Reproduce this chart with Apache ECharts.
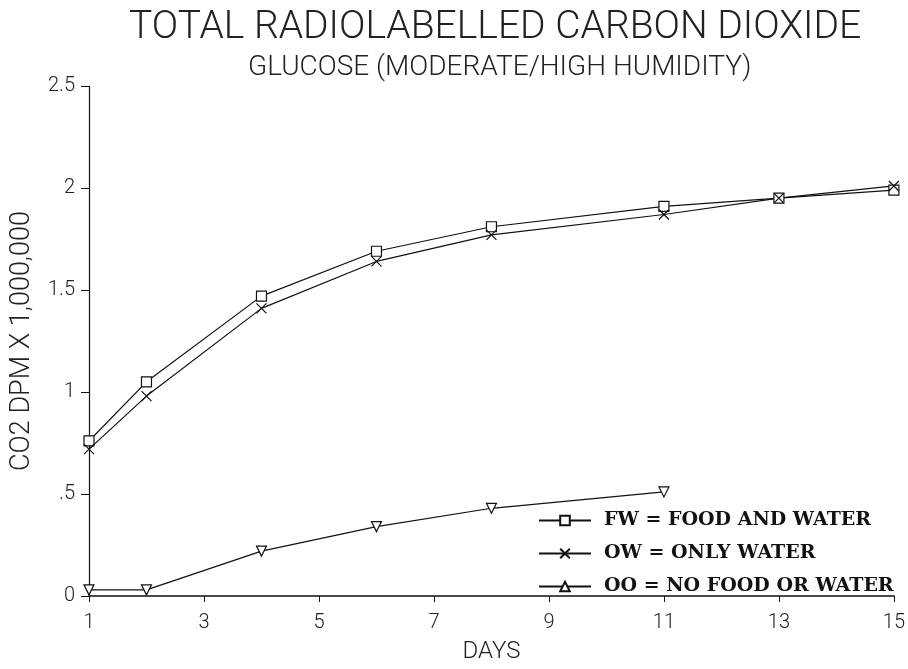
<!DOCTYPE html>
<html>
<head>
<meta charset="utf-8">
<script src="https://cdn.jsdelivr.net/npm/echarts@6/dist/echarts.min.js"></script>
<style>html,body{margin:0;padding:0;background:#fff}#c{width:908px;height:669px}</style>
</head>
<body>
<div id="c"></div>
<script>
const titleText = 'TOTAL RADIOLABELLED CARBON DIOXIDE';
const subtitleText = 'GLUCOSE (MODERATE/HIGH HUMIDITY)';
const xName = 'DAYS';
const yName = 'CO2 DPM X 1,000,000';
const seriesNames = ['FW = FOOD AND WATER', 'OW = ONLY WATER', 'OO = NO FOOD OR WATER'];
const fwDays = [1, 2, 4, 6, 8, 11, 13, 15];
const fwValues = [0.76, 1.05, 1.47, 1.69, 1.81, 1.91, 1.95, 1.99];
const owDays = [1, 2, 4, 6, 8, 11, 13, 15];
const owValues = [0.72, 0.98, 1.41, 1.64, 1.77, 1.87, 1.95, 2.01];
const ooDays = [1, 2, 4, 6, 8, 11];
const ooValues = [0.03, 0.03, 0.22, 0.34, 0.43, 0.51];
const xTicks = [1, 3, 5, 7, 9, 11, 13, 15];
const yTickLabels = {'0':'0','0.5':'.5','1':'1','1.5':'1.5','2':'2','2.5':'2.5'};

const pair = (xs, ys) => xs.map((x, i) => [x, ys[i]]);
const thin = 'Roboto';

const chart = echarts.init(document.getElementById('c'), null, {renderer: 'canvas'});
const baseSeries = {
  type: 'line',
  symbolSize: 10,
  lineStyle: {color: '#111', width: 1.2},
  itemStyle: {color: '#fff', borderColor: '#111', borderWidth: 1.2},
  emphasis: {disabled: true},
  animation: false,
  z: 3
};
chart.setOption({
  backgroundColor: '#fff',
  animation: false,
  title: [
    {text: titleText, left: 124, top: 4,
     textStyle: {fontFamily: thin, fontWeight: 300, fontSize: 39, color: '#222'}},
    {text: subtitleText, left: 243, top: 49,
     textStyle: {fontFamily: thin, fontWeight: 300, fontSize: 28, color: '#222'}}
  ],
  grid: {left: 89, right: 11, top: 86, bottom: 72},
  legend: {
    orient: 'vertical', left: 533, top: 506, itemGap: 14,
    itemWidth: 52, itemHeight: 12,
    textStyle: {fontFamily: 'DejaVu Serif', fontWeight: 'bold', fontSize: 19, color: '#111', padding: [0,0,0,8]},
    data: [
      {name: seriesNames[0]},
      {name: seriesNames[1]},
      {name: seriesNames[2], symbolRotate: 0}
    ]
  },
  xAxis: {
    type: 'value', min: 1, max: 15, interval: 2,
    name: xName, nameLocation: 'middle', nameGap: 44,
    nameTextStyle: {fontFamily: thin, fontWeight: 300, fontSize: 24, color: '#222'},
    axisLine: {lineStyle: {color: '#111', width: 1.5}},
    axisTick: {show: true, length: 6, lineStyle: {color: '#111'}},
    splitLine: {show: false},
    axisLabel: {fontFamily: thin, fontWeight: 300, fontSize: 20, color: '#222', margin: 17,
      formatter: v => xTicks.includes(v) ? String(v) : ''}
  },
  yAxis: {
    type: 'value', min: 0, max: 2.5, interval: 0.5,
    name: yName, nameLocation: 'middle', nameGap: 53,
    nameTextStyle: {fontFamily: thin, fontWeight: 300, fontSize: 27, color: '#222'},
    axisLine: {show: true, lineStyle: {color: '#111', width: 1.2}},
    axisTick: {show: true, length: 8, lineStyle: {color: '#111'}},
    splitLine: {show: false},
    axisLabel: {fontFamily: thin, fontWeight: 300, fontSize: 20, color: '#222', margin: 14,
      formatter: v => yTickLabels[String(v)] ?? String(v)}
  },
  series: [
    Object.assign({}, baseSeries, {name: seriesNames[0], symbol: 'rect', data: pair(fwDays, fwValues)}),
    Object.assign({}, baseSeries, {name: seriesNames[1], symbol: 'path://M0,0 L10,10 M10,0 L0,10',
      itemStyle: {color: 'none', borderColor: '#111', borderWidth: 1.2}, data: pair(owDays, owValues)}),
    Object.assign({}, baseSeries, {name: seriesNames[2], symbol: 'triangle', symbolRotate: 180,
      data: pair(ooDays, ooValues)})
  ]
});
</script>
</body>
</html>
